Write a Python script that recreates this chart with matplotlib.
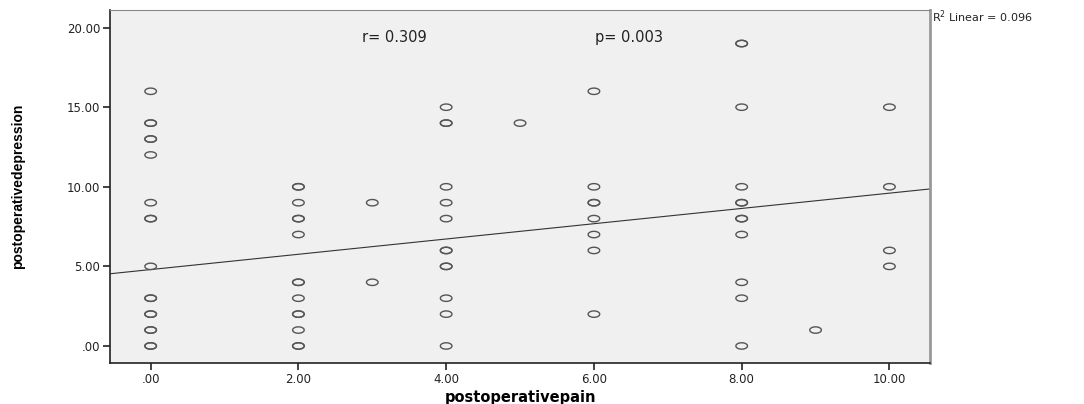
import numpy as np
import matplotlib
matplotlib.use('Agg')
import matplotlib.pyplot as plt
from matplotlib.path import Path

plt.rcParams['font.family'] = ['DejaVu Sans']

# postoperative pain / depression scores (repeated entries = overlapping cases)
pain = [0, 0, 0, 0, 0, 0, 0, 0, 0, 0, 0, 0, 0, 0, 0, 0, 0, 0,
        2, 2, 2, 2, 2, 2, 2, 2, 2, 2, 2, 2, 2, 2,
        3, 3,
        4, 4, 4, 4, 4, 4, 4, 4, 4, 4, 4, 4, 4,
        5,
        6, 6, 6, 6, 6, 6, 6, 6,
        8, 8, 8, 8, 8, 8, 8, 8, 8, 8, 8, 8,
        9,
        10, 10, 10, 10]
depression = [16, 14, 14, 13, 13, 12, 9, 8, 8, 5, 3, 3, 2, 2, 1, 1, 0, 0,
              10, 10, 9, 8, 8, 7, 4, 4, 3, 2, 2, 1, 0, 0,
              9, 4,
              15, 14, 14, 10, 9, 8, 6, 6, 5, 5, 3, 2, 0,
              14,
              16, 10, 9, 9, 8, 7, 6, 2,
              19, 19, 15, 10, 9, 9, 8, 8, 7, 4, 3, 0,
              1,
              15, 10, 6, 5]

# fit line
fit_intercept = 4.80
fit_slope = 0.48

xticks = [0, 2, 4, 6, 8, 10]
xticklabels = ['.00', '2.00', '4.00', '6.00', '8.00', '10.00']
yticks = [0, 5, 10, 15, 20]
yticklabels = ['.00', '5.00', '10.00', '15.00', '20.00']

# flat open ellipse marker
t = np.linspace(0, 2 * np.pi, 40)
ellipse = Path(np.column_stack([np.cos(t), 0.55 * np.sin(t)]))

fig = plt.figure(figsize=(10.84, 4.04), dpi=100)
ax = fig.add_axes([0.1015, 0.1015, 0.7565, 0.8735])
ax.set_facecolor('#f0f0f0')

ax.scatter(pain, depression, marker=ellipse, s=70, facecolors='none',
           edgecolors='#555555', linewidths=1.0, zorder=3)

xlim = (-0.55, 10.55)
xs = np.array(xlim)
ax.plot(xs, fit_intercept + fit_slope * xs, color='#333333', lw=0.8, zorder=2)

ax.set_xlim(*xlim)
ax.set_ylim(-1.07, 21.1)
ax.set_xticks(xticks)
ax.set_xticklabels(xticklabels)
ax.set_yticks(yticks)
ax.set_yticklabels(yticklabels)
ax.tick_params(direction='out', length=5, width=1.2, labelsize=8.5,
               colors='#222222', pad=2)

for s in ['left', 'bottom']:
    ax.spines[s].set_color('#222222')
    ax.spines[s].set_linewidth(1.2)
ax.spines['top'].set_color('#888888')
ax.spines['right'].set_color('#999999')
ax.spines['right'].set_linewidth(2.0)

ax.text(2.86, 19.4, 'r= 0.309', fontsize=10.5, color='#222222', va='center')
ax.text(6.02, 19.4, 'p= 0.003', fontsize=10.5, color='#222222', va='center')
fig.text(0.860, 0.958, 'R$^2$ Linear = 0.096', fontsize=8, color='#222222',
         va='center')

ax.set_xlabel('postoperativepain', fontsize=10.5, fontweight='bold', labelpad=3)
ax.set_ylabel('postoperativedepression', fontsize=10, fontweight='bold',
              family=['Liberation Sans Narrow', 'Liberation Sans'], labelpad=30)

fig.savefig('out.png', dpi=100)
